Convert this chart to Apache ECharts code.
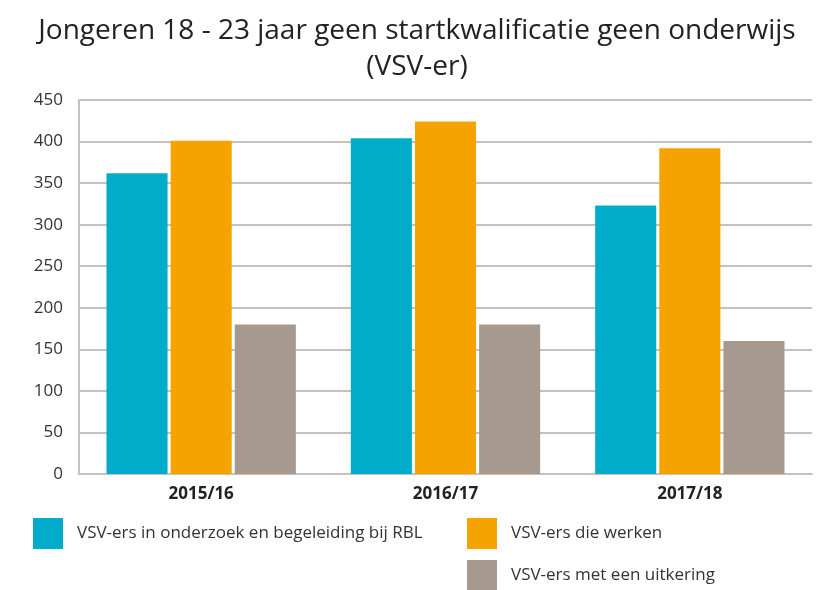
<!DOCTYPE html>
<html>
<head>
<meta charset="utf-8">
<script src="https://cdn.jsdelivr.net/npm/echarts@6/dist/echarts.min.js"></script>
<style>
  html, body { margin: 0; padding: 0; background: #fff; }
  #chart { width: 834px; height: 590px; }
</style>
</head>
<body>
<div id="chart"></div>
<script>
// gegevens
var jaren = ['2015/16', '2016/17', '2017/18']
var reeksNamen = [
  'VSV-ers in onderzoek en begeleiding bij RBL',
  'VSV-ers die werken',
  'VSV-ers met een uitkering'
]
var onderzoekRBL = [362, 404, 323]
var werken = [401, 424, 392]
var uitkering = [180, 180, 160]
var kleuren = ['#00acc9', '#f4a300', '#a59990']

var myChart = echarts.init(document.getElementById('chart'))
var font = '"Open Sans", "Noto Sans", sans-serif'

var legendStijl = function (naam, left, top) {
  return {
    data: [naam],
    left: left,
    top: top,
    itemWidth: 30,
    itemHeight: 31,
    icon: 'rect',
    textStyle: { fontFamily: font, fontSize: 17, color: '#333', padding: [0, 0, 0, 9] }
  }
}

var option = {
  backgroundColor: '#fff',
  title: {
    text: 'Jongeren 18 - 23 jaar geen startkwalificatie geen onderwijs\n(VSV-er)',
    left: 'center',
    top: 8,
    textStyle: {
      fontFamily: font,
      fontWeight: 'normal',
      fontSize: 28,
      lineHeight: 36,
      color: '#222'
    }
  },
  legend: [
    legendStijl(reeksNamen[0], 28, 513),
    legendStijl(reeksNamen[1], 462, 513),
    legendStijl(reeksNamen[2], 462, 555)
  ],
  grid: { left: 79, right: 22, top: 100, bottom: 116 },
  xAxis: {
    type: 'category',
    data: jaren,
    axisLine: { lineStyle: { color: '#c8c0bb', width: 2 } },
    axisTick: { show: false },
    axisLabel: {
      fontFamily: font,
      fontWeight: 'bold',
      fontSize: 17,
      color: '#222',
      margin: 12
    }
  },
  yAxis: {
    type: 'value',
    min: 0,
    max: 450,
    interval: 50,
    axisLine: { show: true, lineStyle: { color: '#c8c0bb', width: 2 } },
    axisTick: { show: false },
    splitLine: { lineStyle: { color: '#c8c0bb', width: 2 } },
    axisLabel: {
      fontFamily: font,
      fontSize: 17,
      color: '#333',
      margin: 16
    }
  },
  series: [
    { name: reeksNamen[0], type: 'bar', data: onderzoekRBL, itemStyle: { color: kleuren[0] }, barWidth: '25%', barGap: '5%' },
    { name: reeksNamen[1], type: 'bar', data: werken, itemStyle: { color: kleuren[1] }, barWidth: '25%', barGap: '5%' },
    { name: reeksNamen[2], type: 'bar', data: uitkering, itemStyle: { color: kleuren[2] }, barWidth: '25%', barGap: '5%' }
  ]
}

myChart.setOption(option)
</script>
</body>
</html>
